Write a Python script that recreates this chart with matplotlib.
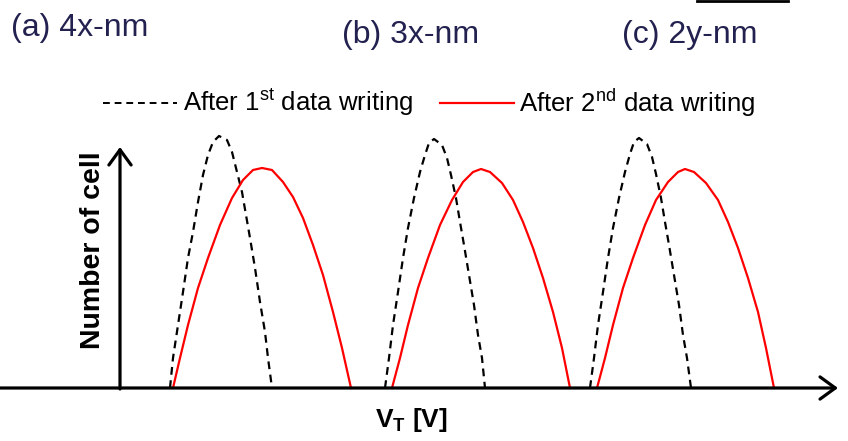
import numpy as np
import matplotlib
matplotlib.use("Agg")
import matplotlib.pyplot as plt

plt.rcParams['font.family'] = ['Liberation Sans', 'DejaVu Sans']
plt.rcParams['mathtext.default'] = 'regular'

# V_T positions and cell counts (arbitrary units)
vt_1st_a = [170, 173, 178, 183, 188, 193, 198, 203, 208, 213, 219, 227, 232, 237,
            242, 246, 250, 255, 260, 265, 268, 272]
n_1st_a = [0, 30, 63, 96, 130, 156, 186, 213, 233, 246, 252, 248, 236, 216,
           196, 173, 150, 120, 86, 56, 30, 0]
vt_2nd_a = [173, 180, 188, 198, 208, 220, 232, 243, 253, 262, 272, 283, 293, 303,
            313, 323, 333, 342, 351]
n_2nd_a = [0, 30, 63, 100, 130, 163, 190, 208, 218, 220, 218, 206, 191, 170,
           143, 113, 76, 40, 0]

vt_1st_b = [385, 389, 393, 398, 403, 408, 414, 420, 425, 429, 434, 442, 447, 451,
            456, 460, 464, 469, 474, 478, 482, 485]
n_1st_b = [0, 30, 63, 96, 130, 160, 190, 216, 233, 245, 249, 243, 230, 213,
           190, 166, 143, 113, 83, 53, 30, 0]
vt_2nd_b = [392, 400, 408, 418, 428, 440, 452, 463, 473, 481, 490, 502, 513, 523,
            533, 543, 553, 562, 570]
n_2nd_b = [0, 30, 63, 100, 130, 163, 188, 206, 216, 219, 216, 205, 188, 166,
           140, 110, 76, 40, 0]

vt_1st_c = [590, 594, 598, 603, 608, 613, 619, 625, 630, 634, 639, 647, 652, 656,
            661, 665, 669, 674, 679, 683, 687, 691]
n_1st_c = [0, 30, 63, 96, 130, 160, 190, 216, 234, 246, 250, 244, 231, 214,
           190, 166, 143, 113, 83, 53, 30, 0]
vt_2nd_c = [597, 605, 613, 623, 633, 645, 656, 668, 678, 685, 694, 706, 718, 728,
            738, 748, 758, 766, 774]
n_2nd_c = [0, 30, 63, 100, 130, 163, 188, 206, 216, 219, 216, 205, 188, 166,
           140, 110, 76, 40, 0]

panel_labels = ["(a) 4x-nm", "(b) 3x-nm", "(c) 2y-nm"]
legend_labels = ["After 1$^{st}$ data writing", "After 2$^{nd}$ data writing"]

navy = "#23214f"
dash = (0, (3.5, 2.5))

fig = plt.figure(figsize=(8.48, 4.41), dpi=100)
ax = fig.add_axes([0, 0, 1, 1])
ax.set_xlim(0, 848)
ax.set_ylim(-53, 388)
ax.axis("off")

for vt, n in [(vt_1st_a, n_1st_a), (vt_1st_b, n_1st_b), (vt_1st_c, n_1st_c)]:
    ax.plot(vt, n, color="black", lw=1.6, linestyle=dash, solid_joinstyle="round")
for vt, n in [(vt_2nd_a, n_2nd_a), (vt_2nd_b, n_2nd_b), (vt_2nd_c, n_2nd_c)]:
    ax.plot(vt, n, color="red", lw=1.6, solid_joinstyle="round")

# axes with arrows
arrow = dict(arrowstyle="->,head_length=1.1,head_width=0.8", lw=2.3,
             color="black", shrinkA=0, shrinkB=0)
ax.annotate("", xy=(838, 0), xytext=(0, 0), arrowprops=arrow)
ax.annotate("", xy=(120, 241), xytext=(120, -1), arrowprops=arrow)

ax.text(93, 138, "Number of cell", rotation=90, fontsize=20.5,
        fontweight="bold", ha="center", va="center")
ax.text(411, -32, "V$_T$ [V]", fontsize=19, fontweight="bold",
        ha="center", va="center")

# panel labels
ax.text(11, 360, panel_labels[0], fontsize=23, color=navy, va="center")
ax.text(342, 353, panel_labels[1], fontsize=23, color=navy, va="center")
ax.text(622, 353, panel_labels[2], fontsize=23, color=navy, va="center")

# legend
ax.plot([103, 177], [285, 285], color="black", lw=1.4, linestyle=dash)
ax.text(183, 285, legend_labels[0], fontsize=18.5, va="center")
ax.plot([440, 514], [285, 285], color="red", lw=1.6)
ax.text(519, 285, legend_labels[1], fontsize=18.5, va="center")

# small bar at top edge
ax.plot([697, 788], [387, 387], color="black", lw=2)

fig.savefig("out.png", dpi=100)
